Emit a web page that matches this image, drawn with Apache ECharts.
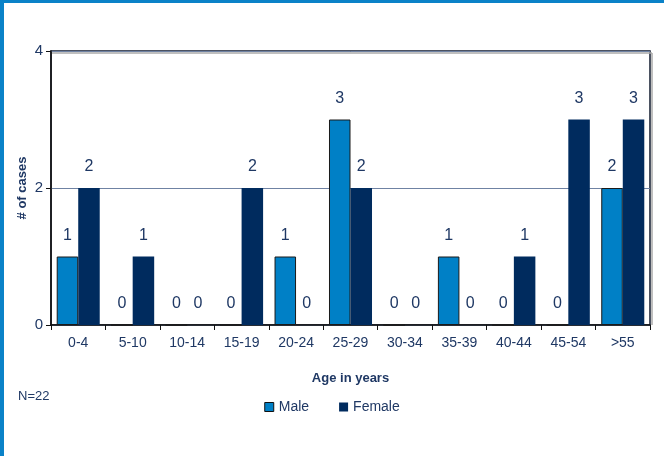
<!DOCTYPE html>
<html><head><meta charset="utf-8">
<script src="https://cdn.jsdelivr.net/npm/echarts@6/dist/echarts.min.js"></script>
<style>html,body{margin:0;padding:0;background:#fff}#c{width:664px;height:456px}</style>
</head><body><div id="c"></div>
<script>
const categories = ['0-4','5-10','10-14','15-19','20-24','25-29','30-34','35-39','40-44','45-54','>55'];
const male = [1,0,0,0,1,3,0,1,0,0,2];
const female = [2,1,0,2,0,2,0,0,1,3,3];
const yTicks = [0,2,4];
const txt = '#1F3864';
const chart = echarts.init(document.getElementById('c'));
const lbl = {show:true, position:'top', distance:13, color:txt, fontSize:16, fontFamily:'Liberation Sans'};
chart.setOption({
  animation:false,
  textStyle:{fontFamily:'Liberation Sans'},
  grid:{left:51, top:51, right:14, bottom:131, show:true, borderColor:'#111a2e', borderWidth:1.5},
  xAxis:{type:'category', data:categories,
    axisLine:{lineStyle:{color:'#111', width:1.5}},
    axisTick:{show:true, length:5, lineStyle:{color:'#111'}},
    axisLabel:{color:txt, fontSize:14, margin:11},
    name:'Age in years', nameLocation:'middle', nameGap:47,
    nameTextStyle:{color:txt, fontSize:13, fontWeight:'bold'}},
  yAxis:{type:'value', min:0, max:4, interval:2,
    axisLine:{show:true, lineStyle:{color:'#111', width:1.5}},
    axisTick:{show:true, length:5, lineStyle:{color:'#111'}},
    axisLabel:{color:txt, fontSize:15, margin:8},
    splitLine:{lineStyle:{color:'#6f82a3', width:1}}},
  legend:{bottom:37, left:'center', itemWidth:9, itemHeight:9, itemGap:30,
    textStyle:{color:txt, fontSize:14}, icon:'rect',
    data:[{name:'Male', itemStyle:{borderColor:'#111', borderWidth:1}}, {name:'Female'}]},
  series:[
    {name:'Male', type:'bar', data:male, barGap:'0%', barCategoryGap:'21%',
     itemStyle:{color:'#0080C6', borderColor:'#1a1a1a', borderWidth:1}, label:lbl},
    {name:'Female', type:'bar', data:female,
     itemStyle:{color:'#002B5E'}, label:lbl}
  ],
  graphic:[
    {type:'rect', shape:{x:0,y:0,width:664,height:3}, style:{fill:'#0A82C8'}},
    {type:'rect', shape:{x:0,y:0,width:4,height:456}, style:{fill:'#0A82C8'}},
    {type:'line', shape:{x1:52,y1:53,x2:652,y2:53}, style:{stroke:'#aaaaaa', lineWidth:1.5}},
    {type:'line', shape:{x1:652,y1:53,x2:652,y2:325}, style:{stroke:'#aaaaaa', lineWidth:1.5}},
    {type:'text', x:22, y:188, rotation:Math.PI/2, style:{text:'# of cases', fill:txt, font:'bold 13px Liberation Sans', align:'center', verticalAlign:'middle'}},
    {type:'text', left:18, top:390, style:{text:'N=22', fill:txt, font:'13px Liberation Sans'}}
  ]
});
</script></body></html>
